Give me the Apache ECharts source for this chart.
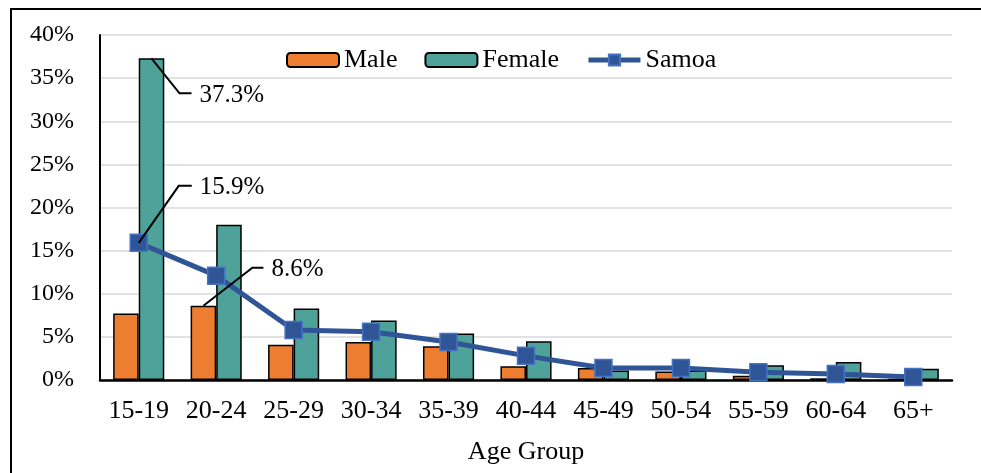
<!DOCTYPE html>
<html>
<head>
<meta charset="utf-8">
<script src="https://cdn.jsdelivr.net/npm/echarts@6/dist/echarts.min.js"></script>
<style>
html,body{margin:0;padding:0;background:#fff;}
#main{width:981px;height:473px;}
</style>
</head>
<body>
<div id="main"></div>
<script>
const categories = ['15-19','20-24','25-29','30-34','35-39','40-44','45-49','50-54','55-59','60-64','65+'];
const maleValues = [7.7, 8.6, 4.1, 4.4, 3.9, 1.6, 1.4, 1.0, 0.5, 0.2, 0.1];
const femaleValues = [37.3, 18.0, 8.3, 6.9, 5.4, 4.5, 1.1, 1.1, 1.7, 2.1, 1.3];
const samoaValues = [15.9, 12.1, 5.8, 5.6, 4.4, 2.8, 1.4, 1.4, 0.9, 0.7, 0.35];
const yTicks = [0, 5, 10, 15, 20, 25, 30, 35, 40];
const annotations = [
  {series: 1, index: 0, text: '37.3%', dx: 28, dy: 35, h: 12},
  {series: 2, index: 0, text: '15.9%', dx: 40, dy: -57, h: 13},
  {series: 0, index: 1, text: '8.6%', dx: 49, dy: -38, h: 11}
];

const FONT = '"Liberation Serif", "Times New Roman", serif';
const chart = echarts.init(document.getElementById('main'), null, {renderer: 'canvas'});

const option = {
  animation: false,
  backgroundColor: '#ffffff',
  grid: {left: 100, right: 29, top: 35, bottom: 93, containLabel: false},
  legend: {
    left: 286, top: 47, padding: 0,
    itemWidth: 52, itemHeight: 14, itemGap: 27,
    textStyle: {fontFamily: FONT, fontSize: 26, color: '#000', lineHeight: 26},
    data: [
      {name: 'Male'},
      {name: 'Female'},
      {name: 'Samoa', lineStyle: {width: 5, color: '#2f5597'}}
    ]
  },
  xAxis: {
    type: 'category',
    data: categories,
    name: 'Age Group',
    nameLocation: 'middle',
    nameGap: 59,
    nameTextStyle: {fontFamily: FONT, fontSize: 26, color: '#000'},
    axisLine: {lineStyle: {color: '#000', width: 2.5}},
    axisTick: {show: false},
    axisLabel: {fontFamily: FONT, fontSize: 26, color: '#000', margin: 18, interval: 0}
  },
  yAxis: {
    type: 'value',
    min: yTicks[0], max: yTicks[yTicks.length - 1], interval: 5,
    axisLine: {show: true, lineStyle: {color: '#000', width: 2}},
    axisTick: {show: false},
    splitLine: {lineStyle: {color: '#d9d9d9', width: 1.5}},
    axisLabel: {fontFamily: FONT, fontSize: 24, color: '#000', margin: 26, formatter: v => v + '%'}
  },
  series: [
    {
      name: 'Male', type: 'bar', data: maleValues,
      barGap: '0%', barCategoryGap: '34%',
      itemStyle: {color: '#ed7d31', borderColor: '#000', borderWidth: 1.5},
      z: 2
    },
    {
      name: 'Female', type: 'bar', data: femaleValues,
      barGap: '0%', barCategoryGap: '34%',
      itemStyle: {color: '#4fa29a', borderColor: '#000', borderWidth: 1.5},
      z: 2
    },
    {
      name: 'Samoa', type: 'line', data: samoaValues,
      symbol: 'rect', symbolSize: 17,
      lineStyle: {color: '#2f5597', width: 5},
      itemStyle: {color: '#2f5597', borderColor: '#4472c4', borderWidth: 1.5},
      z: 5
    }
  ]
};
chart.setOption(option);

function anchorOf(a) {
  try {
    const data = chart.getModel().getSeriesByIndex(a.series).getData();
    const l = data.getItemLayout(a.index);
    if (l && l.width !== undefined) {
      return [l.x + l.width / 2, Math.min(l.y, l.y + l.height)];
    }
    if (Array.isArray(l)) return l;
  } catch (e) {}
  const vals = [maleValues, femaleValues, samoaValues][a.series];
  return chart.convertToPixel({seriesIndex: a.series}, [a.index, vals[a.index]]);
}

const graphics = [{
  type: 'rect', z: 100, silent: true,
  shape: {x: 11, y: 9, width: 1000, height: 500},
  style: {fill: 'none', stroke: '#000', lineWidth: 2}
}];
annotations.forEach(a => {
  const p = anchorOf(a);
  const elbow = [p[0] + a.dx, p[1] + a.dy];
  const end = [elbow[0] + a.h, elbow[1]];
  graphics.push({
    type: 'polyline', z: 50, silent: true,
    shape: {points: [p, elbow, end]},
    style: {stroke: '#000', lineWidth: 2, fill: 'none'}
  });
  graphics.push({
    type: 'text', z: 50, silent: true,
    x: end[0] + 8, y: elbow[1] + 2,
    style: {text: a.text, font: '25px ' + FONT, fill: '#000', verticalAlign: 'middle', align: 'left'}
  });
});
chart.setOption({graphic: graphics});
</script>
</body>
</html>
